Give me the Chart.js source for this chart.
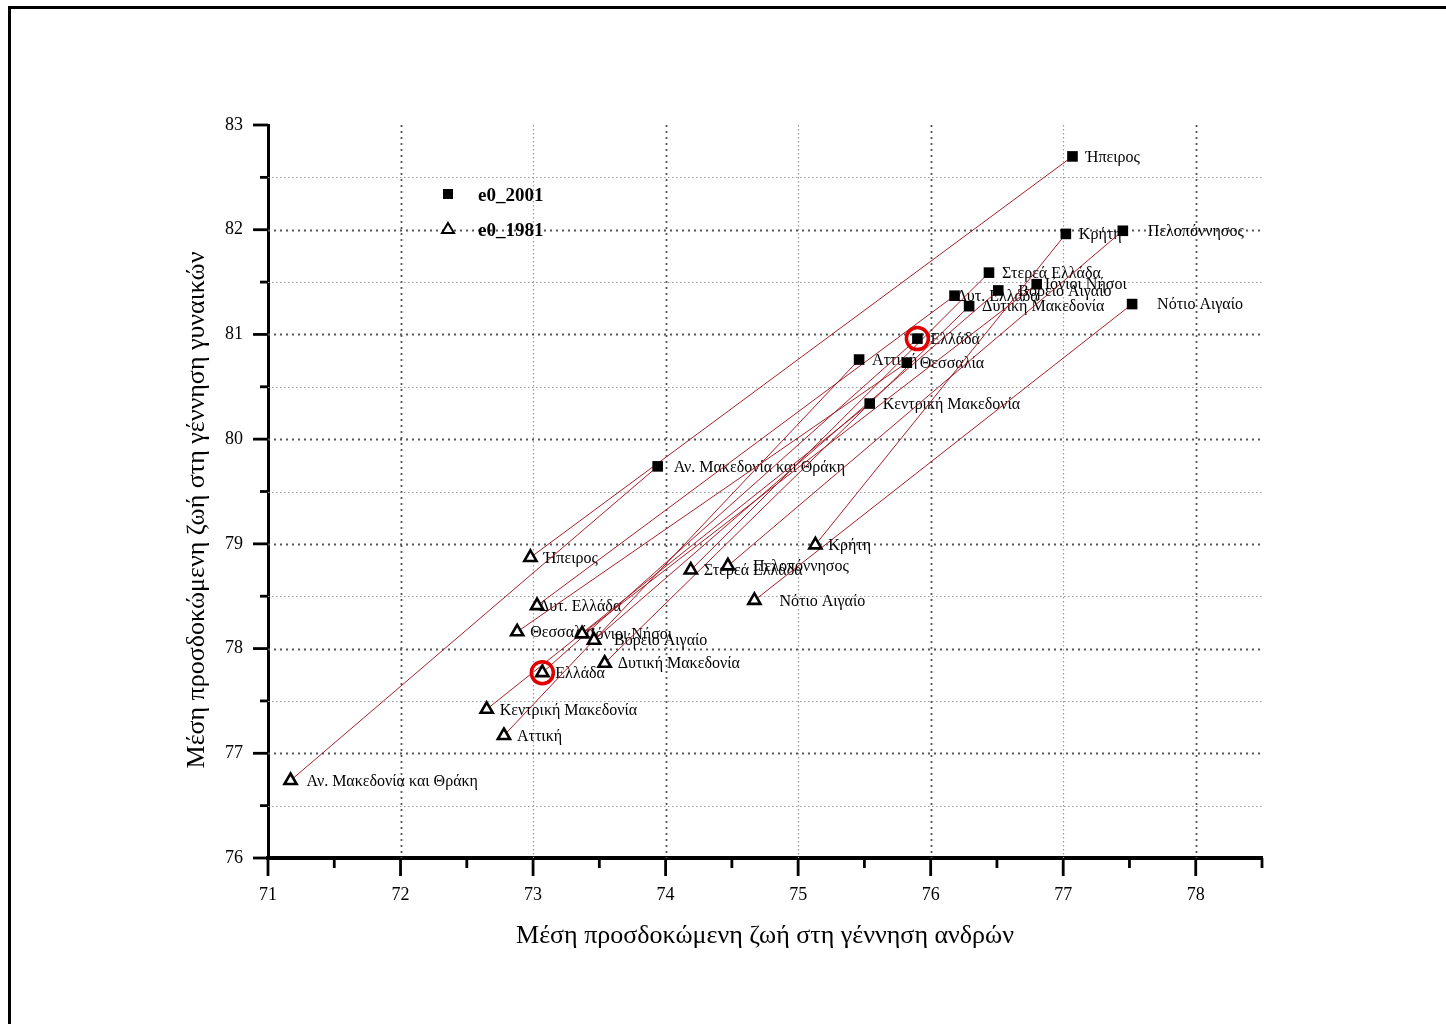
<!DOCTYPE html>
<html>
<head>
<meta charset="utf-8">
<title>Προσδοκώμενη ζωή 1981 - 2001</title>
<script src="https://cdn.jsdelivr.net/npm/chart.js@4.4.1/dist/chart.umd.min.js"></script>
<style>
  html, body { margin: 0; padding: 0; background: #fff; }
  #wrap { position: relative; width: 1446px; height: 1024px; overflow: hidden; }
  #frame {
    position: absolute; left: 8px; top: 6px; width: 1500px; height: 1100px;
    border-left: 3px solid #000; border-top: 3px solid #000; pointer-events: none;
  }
  canvas { position: absolute; left: 0; top: 0; }
</style>
</head>
<body>
<div id="wrap">
  <canvas id="chartEsperanza" width="1446" height="1024"></canvas>
  <div id="frame"></div>
</div>
<script>
// ---- données ----
const regions = [
  'Αν. Μακεδονία και Θράκη', 'Κεντρική Μακεδονία', 'Δυτική Μακεδονία', 'Ήπειρος',
  'Θεσσαλία', 'Ιόνιοι Νήσοι', 'Δυτ. Ελλάδα', 'Στερεά Ελλάδα', 'Αττική',
  'Πελοπόννησος', 'Βόρειο Αιγαίο', 'Νότιο Αιγαίο', 'Κρήτη', 'Ελλάδα'
];
// e0 2001
const andres2001   = [73.94, 75.54, 76.29, 77.07, 75.82, 76.80, 76.18, 76.44, 75.46, 77.45, 76.51, 77.52, 77.02, 75.90];
const gynaikes2001 = [79.74, 80.34, 81.27, 82.70, 80.73, 81.48, 81.37, 81.59, 80.76, 81.99, 81.42, 81.29, 81.96, 80.96];
// e0 1981
const andres1981   = [71.17, 72.65, 73.54, 72.98, 72.88, 73.37, 73.03, 74.19, 72.78, 74.47, 73.46, 74.67, 75.13, 73.07];
const gynaikes1981 = [76.74, 77.42, 77.86, 78.87, 78.16, 78.14, 78.41, 78.75, 77.17, 78.79, 78.08, 78.46, 78.99, 77.77];

const xTicks = [71, 72, 73, 74, 75, 76, 77, 78];
const yTicks = [76, 77, 78, 79, 80, 81, 82, 83];
const legendLabels = ['e0_2001', 'e0_1981'];
const titreX = 'Μέση προσδοκώμενη ζωή στη γέννηση ανδρών';
const titreY = 'Μέση προσδοκώμενη ζωή στη γέννηση γυναικών';
const pays = 'Ελλάδα';

// décalage horizontal des étiquettes (style)
const decalageEtiquette = {
  'Πελοπόννησος': 25, 'Νότιο Αιγαίο': 25, 'Δυτ. Ελλάδα': 2,
  'Ιόνιοι Νήσοι': 8, 'Βόρειο Αιγαίο': 20, 'Αν. Μακεδονία και Θράκη': 16
};

const SERIF = '"Liberation Serif", "DejaVu Serif", serif';
const LIGNE = 'rgba(160, 20, 30, 0.95)';

// Grille pointillée + graduations majeures / mineures
const grillePlugin = {
  id: 'grille',
  beforeDatasetsDraw(chart) {
    const { ctx, chartArea: a, scales: { x, y } } = chart;
    ctx.save();
    for (let v = 72; v <= 78; v += 1) {
      const px = Math.round(x.getPixelForValue(v)) + 0.5;
      const fort = v % 2 === 0;
      ctx.strokeStyle = fort ? '#555' : '#999';
      ctx.lineWidth = fort ? 1.8 : 1.2;
      ctx.setLineDash(fort ? [2, 4] : [1.5, 2.5]);
      ctx.beginPath(); ctx.moveTo(px, a.top); ctx.lineTo(px, a.bottom); ctx.stroke();
    }
    for (let v = 76.5; v < 83; v += 0.5) {
      const py = Math.round(y.getPixelForValue(v)) + 0.5;
      const fort = Number.isInteger(v);
      ctx.strokeStyle = fort ? '#555' : '#999';
      ctx.lineWidth = fort ? 1.8 : 1.2;
      ctx.setLineDash(fort ? [2, 4] : [1.5, 2.5]);
      ctx.beginPath(); ctx.moveTo(a.left, py); ctx.lineTo(a.right, py); ctx.stroke();
    }
    ctx.restore();
  },
  afterDraw(chart) {
    const { ctx, chartArea: a, scales: { x, y } } = chart;
    ctx.save();
    ctx.strokeStyle = '#000';
    ctx.lineWidth = 2.8;
    for (let v = 71; v <= 78.5; v += 0.5) {
      const px = x.getPixelForValue(v);
      const len = Number.isInteger(v) ? 18 : 10;
      ctx.beginPath(); ctx.moveTo(px, a.bottom); ctx.lineTo(px, a.bottom + len); ctx.stroke();
    }
    for (let v = 76; v <= 83; v += 0.5) {
      const py = y.getPixelForValue(v);
      const len = Number.isInteger(v) ? 15 : 8;
      ctx.beginPath(); ctx.moveTo(a.left, py); ctx.lineTo(a.left - len, py); ctx.stroke();
    }
    // titres des axes
    ctx.fillStyle = '#000';
    ctx.font = '26px ' + SERIF;
    ctx.textAlign = 'center';
    ctx.textBaseline = 'middle';
    ctx.fillText(titreX, (a.left + a.right) / 2, 936);
    ctx.translate(197, 510);
    ctx.rotate(-Math.PI / 2);
    ctx.fillText(titreY, 0, 0);
    ctx.restore();
  }
};

// Étiquettes des régions (sous les marqueurs et les lignes)
const etiquettesPlugin = {
  id: 'etiquettes',
  beforeDatasetsDraw(chart) {
    const { ctx } = chart;
    ctx.save();
    ctx.fillStyle = '#000';
    ctx.font = '16px ' + SERIF;
    ctx.textAlign = 'left';
    ctx.textBaseline = 'middle';
    [0, 1].forEach(idx => {
      const meta = chart.getDatasetMeta(idx);
      meta.data.forEach((pt, i) => {
        const nom = regions[i];
        const dx = decalageEtiquette[nom] !== undefined ? decalageEtiquette[nom] : 13;
        ctx.fillText(nom, pt.x + dx, pt.y + 1);
      });
    });
    ctx.restore();
  }
};

// Légende dans la zone du graphique
const legendePlugin = {
  id: 'legende',
  afterDatasetsDraw(chart) {
    const { ctx, chartArea: a } = chart;
    const x0 = a.left + 180, y0 = a.top + 69;
    ctx.save();
    ctx.fillStyle = '#000';
    ctx.fillRect(x0 - 5, y0 - 5, 10, 10);
    ctx.beginPath();
    ctx.moveTo(x0, y0 + 29); ctx.lineTo(x0 + 6, y0 + 39); ctx.lineTo(x0 - 6, y0 + 39); ctx.closePath();
    ctx.fillStyle = '#fff'; ctx.fill();
    ctx.strokeStyle = '#000'; ctx.lineWidth = 2; ctx.stroke();
    ctx.fillStyle = '#000';
    ctx.font = 'bold 19px ' + SERIF;
    ctx.textBaseline = 'middle';
    ctx.fillText(legendLabels[0], x0 + 30, y0 + 2);
    ctx.fillText(legendLabels[1], x0 + 30, y0 + 37);
    ctx.restore();
  }
};

const points2001 = andres2001.map((v, i) => ({ x: v, y: gynaikes2001[i] }));
const points1981 = andres1981.map((v, i) => ({ x: v, y: gynaikes1981[i] }));
const iPays = regions.indexOf(pays);

const liens = regions.map((nom, i) => ({
  type: 'line',
  label: nom,
  data: [points1981[i], points2001[i]],
  borderColor: LIGNE,
  borderWidth: 1,
  pointRadius: 0,
  fill: false,
  tension: 0,
  order: 5
}));

const ctx = document.getElementById('chartEsperanza').getContext('2d');
const chartEsperanza = new Chart(ctx, {
  type: 'scatter',
  data: {
    datasets: [
      {
        label: legendLabels[0],
        data: points2001,
        pointStyle: 'rect',
        pointRadius: 7.5,
        backgroundColor: '#000',
        borderColor: '#000',
        borderWidth: 0,
        order: 2
      },
      {
        label: legendLabels[1],
        data: points1981,
        pointStyle: 'triangle',
        pointRadius: 7,
        backgroundColor: '#fff',
        borderColor: '#000',
        borderWidth: 2.6,
        order: 2
      },
      {
        label: pays,
        data: [points2001[iPays], points1981[iPays]],
        pointStyle: 'circle',
        pointRadius: 11,
        backgroundColor: 'transparent',
        borderColor: '#e00000',
        borderWidth: 3.5,
        order: 1
      },
      ...liens
    ]
  },
  options: {
    responsive: false,
    animation: false,
    devicePixelRatio: 1,
    layout: { padding: { left: 0, top: 125, right: 184, bottom: 0 } },
    plugins: { legend: { display: false }, tooltip: { enabled: false } },
    scales: {
      x: {
        type: 'linear',
        min: 71,
        max: 78.5,
        afterFit: s => { s.height = 166; },
        afterBuildTicks: s => { s.ticks = xTicks.map(v => ({ value: v })); },
        ticks: {
          color: '#000',
          font: { family: SERIF, size: 18 },
          padding: 26,
          maxRotation: 0,
          autoSkip: false
        },
        grid: { display: false, drawTicks: false },
        border: { display: true, color: '#000', width: 4 }
      },
      y: {
        type: 'linear',
        min: 76,
        max: 83,
        afterFit: s => { s.width = 268; },
        afterBuildTicks: s => { s.ticks = yTicks.map(v => ({ value: v })); },
        ticks: {
          color: '#000',
          font: { family: SERIF, size: 18 },
          padding: 25,
          autoSkip: false
        },
        grid: { display: false, drawTicks: false },
        border: { display: true, color: '#000', width: 3 }
      }
    }
  },
  plugins: [grillePlugin, etiquettesPlugin, legendePlugin]
});
</script>
</body>
</html>
